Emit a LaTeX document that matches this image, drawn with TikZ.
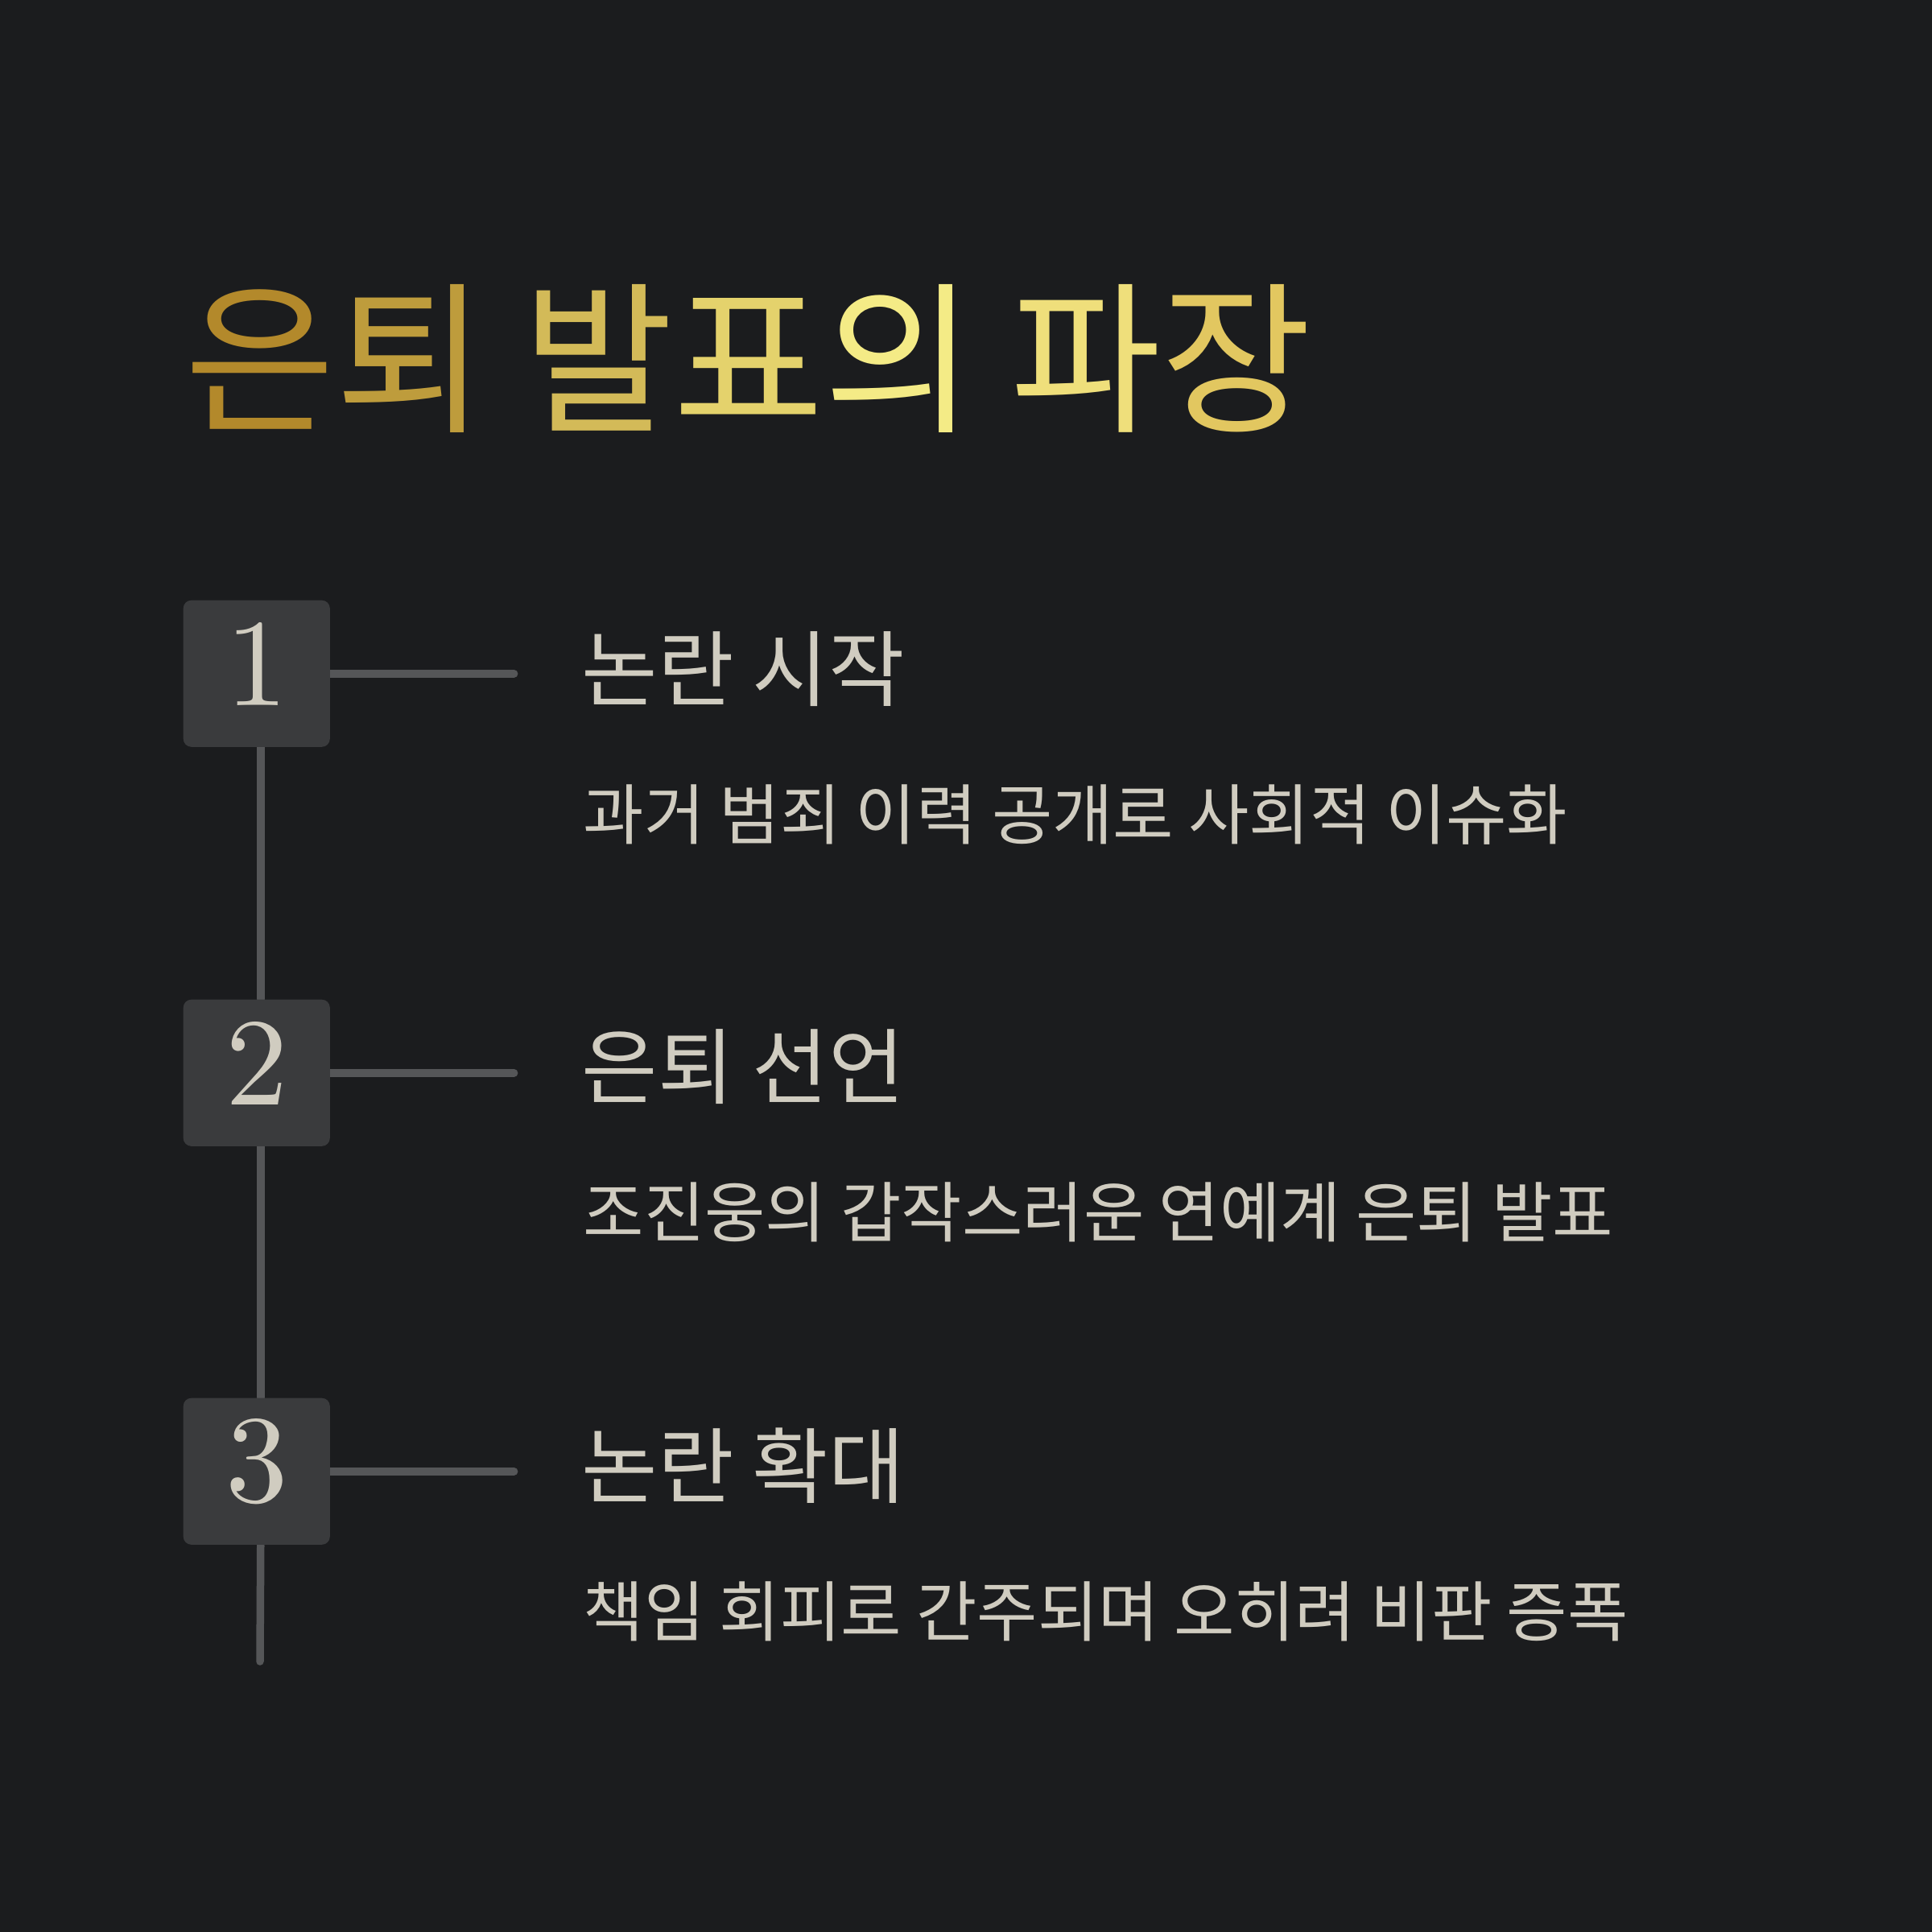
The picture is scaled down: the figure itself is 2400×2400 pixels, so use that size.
\documentclass[tikz,border=0pt]{standalone}
\usepackage{fontspec}
\newfontfamily\kr{Noto Sans CJK KR}
\newfontfamily\numfont{lmroman10-regular.otf}
\definecolor{bgc}{HTML}{1B1C1E}
\definecolor{boxc}{HTML}{3A3B3D}
\definecolor{linec}{HTML}{555658}
\definecolor{txtc}{HTML}{D0CCC0}
\definecolor{g1}{HTML}{B3892B}
\definecolor{g2}{HTML}{BE9C3C}
\definecolor{g3}{HTML}{D3BA58}
\definecolor{g4}{HTML}{E4D26C}
\definecolor{g5}{HTML}{F4EB86}
\definecolor{g6}{HTML}{EFDF7B}
\definecolor{g7}{HTML}{E2C760}
\pgfdeclarelayer{bg}
\pgfdeclarelayer{lines}
\pgfsetlayers{bg,lines,main}
\begin{document}
\begin{tikzpicture}[x=0.01cm,y=-0.01cm,
  numbox/.style={fill=boxc,rounded corners=0.1cm,minimum width=1.82cm,minimum height=1.82cm,inner sep=0pt,anchor=north west},
  digit/.style={text=txtc,inner sep=0pt,font=\numfont\fontsize{44}{50}\selectfont},
  head/.style={text=txtc,inner sep=0pt,anchor=west,font=\kr\fontsize{29.2}{34}\selectfont},
  subline/.style={text=txtc,inner sep=0pt,anchor=west,font=\kr\fontsize{23.3}{28}\selectfont},
  conn/.style={draw=linec,line width=2.7pt,line cap=round},
  titlestyle/.style={inner sep=0pt,anchor=west,font=\kr\fontsize{57.8}{64}\selectfont}
]
\useasboundingbox (0,0) rectangle (2400,2400);
\begin{pgfonlayer}{bg}
\fill[bgc] (0,0) rectangle (2400,2400);
\end{pgfonlayer}

\node[titlestyle] (title) at (229,445) {\textcolor{g1}{은}\textcolor{g2}{퇴} \textcolor{g3}{발}\textcolor{g4}{표}\textcolor{g5}{의} \textcolor{g6}{파}\textcolor{g7}{장}};

\node[numbox] (b1) at (227,745) {};
\node[numbox] (b2) at (227,1241) {};
\node[numbox] (b3) at (227,1736) {};

\node[digit] (n1) at ([yshift=0.12cm]b1.center) {1};
\node[digit] (n2) at ([yshift=0.12cm]b2.center) {2};
\node[digit] (n3) at ([yshift=0.12cm]b3.center) {3};

\node[head] (h1) at (722,831) {논란 시작};
\node[head] (h2) at (722,1325) {은퇴 선언};
\node[head] (h3) at (722,1821) {논란 확대};

\node[subline] (s1) at (724,1012) {과거 범죄 이력 공개로 사회적 이슈화};
\node[subline] (s2) at (724,1506) {조진웅의 갑작스러운 연예계 은퇴 발표};
\node[subline] (s3) at (724,2002) {책임 회피로 간주되며 오히려 비판 증폭};

\coordinate (e1) at ([xshift=2.28cm]b1.east);
\coordinate (e2) at ([xshift=2.28cm]b2.east);
\coordinate (e3) at ([xshift=2.28cm]b3.east);
\coordinate (tailend) at (323,2064);

\begin{pgfonlayer}{lines}
\draw[conn] ([xshift=0.05cm]b1.south) -- ([xshift=0.05cm]b2.north);
\draw[conn] ([xshift=0.05cm]b2.south) -- ([xshift=0.05cm]b3.north);
\draw[conn] ([xshift=0.05cm]b3.south) -- (tailend);
\draw[conn] (b1.east) -- (e1);
\draw[conn] (b2.east) -- (e2);
\draw[conn] (b3.east) -- (e3);
\end{pgfonlayer}
\end{tikzpicture}
\end{document}
